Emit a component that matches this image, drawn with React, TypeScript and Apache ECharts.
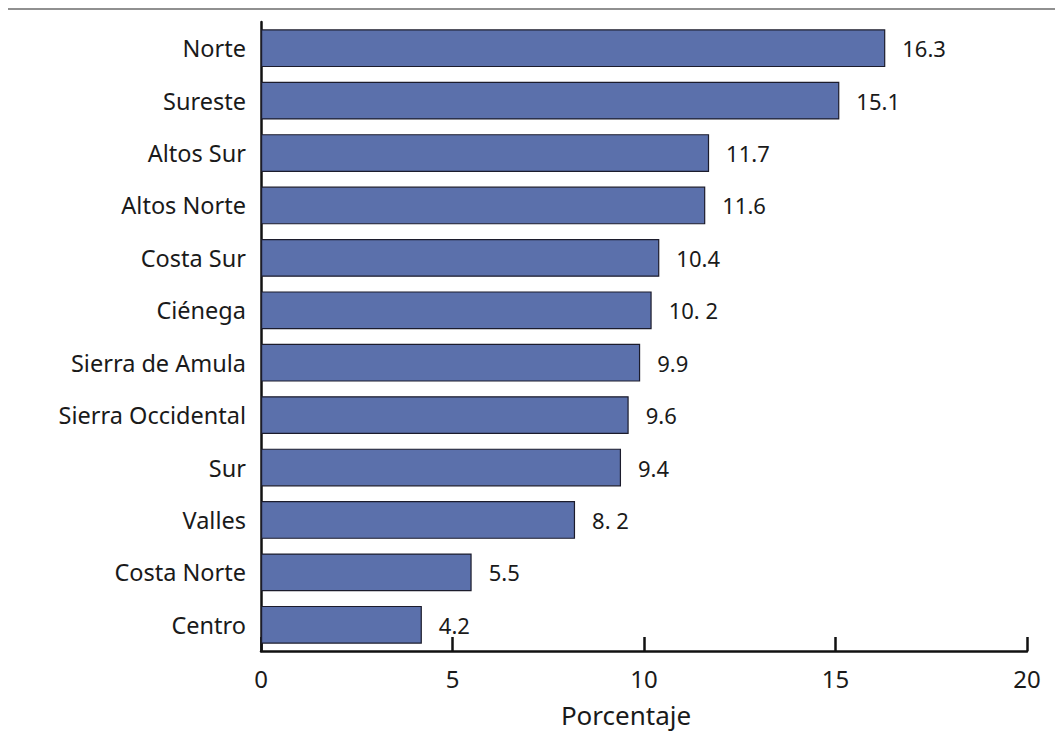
import React, { useEffect, useRef } from "react";
import * as echarts from "echarts";

const categories = [
  "Norte",
  "Sureste",
  "Altos Sur",
  "Altos Norte",
  "Costa Sur",
  "Ciénega",
  "Sierra de Amula",
  "Sierra Occidental",
  "Sur",
  "Valles",
  "Costa Norte",
  "Centro",
];
const values = [16.3, 15.1, 11.7, 11.6, 10.4, 10.2, 9.9, 9.6, 9.4, 8.2, 5.5, 4.2];
const valueLabels = ["16.3", "15.1", "11.7", "11.6", "10.4", "10. 2", "9.9", "9.6", "9.4", "8. 2", "5.5", "4.2"];
const xTicks = [0, 5, 10, 15, 20];
const xAxisName = "Porcentaje";

const FONT = "'Noto Sans', 'Open Sans', sans-serif";

export default function App() {
  const ref = useRef<HTMLDivElement>(null);
  useEffect(() => {
    if (!ref.current) return;
    const chart = echarts.init(ref.current, null, { renderer: "svg" });
    const cats = [...categories].reverse();
    const vals = [...values].reverse();
    const labs = [...valueLabels].reverse();
    chart.setOption({
      animation: false,
      grid: { left: 261, right: 28, top: 22, bottom: 84, containLabel: false },
      graphic: [
        {
          type: "line",
          shape: { x1: 8, y1: 9, x2: 1055, y2: 9 },
          style: { stroke: "#222", lineWidth: 1.2 },
        },
      ],
      xAxis: {
        type: "value",
        min: xTicks[0],
        max: xTicks[xTicks.length - 1],
        interval: 5,
        name: xAxisName,
        nameLocation: "middle",
        nameGap: 51,
        nameTextStyle: { fontFamily: FONT, fontSize: 26, color: "#1a1a1a", padding: [0, 36, 0, 0] },
        axisLine: { show: true, lineStyle: { color: "#111", width: 2.5 } },
        axisTick: { show: true, inside: true, length: 14, lineStyle: { color: "#111", width: 2.5 } },
        axisLabel: { fontFamily: FONT, fontSize: 24, color: "#1a1a1a", margin: 15 },
        splitLine: { show: false },
      },
      yAxis: {
        type: "category",
        data: cats,
        axisLine: { show: true, lineStyle: { color: "#111", width: 2.5 } },
        axisTick: { show: false },
        axisLabel: { fontFamily: FONT, fontSize: 23.5, color: "#1a1a1a", margin: 15 },
      },
      series: [
        {
          type: "bar",
          data: vals,
          barCategoryGap: "28%",
          itemStyle: { color: "#5b70ab", borderColor: "#1c1c2c", borderWidth: 1.2 },
          label: {
            show: true,
            position: "right",
            distance: 17,
            fontFamily: FONT,
            fontSize: 22,
            color: "#1a1a1a",
            formatter: (p: any) => labs[p.dataIndex],
          },
        },
      ],
    });
    return () => chart.dispose();
  }, []);
  return (
    <div
      ref={ref}
      style={{ position: "fixed", left: 0, top: 0, width: 1055, height: 735, background: "#fff" }}
    />
  );
}
